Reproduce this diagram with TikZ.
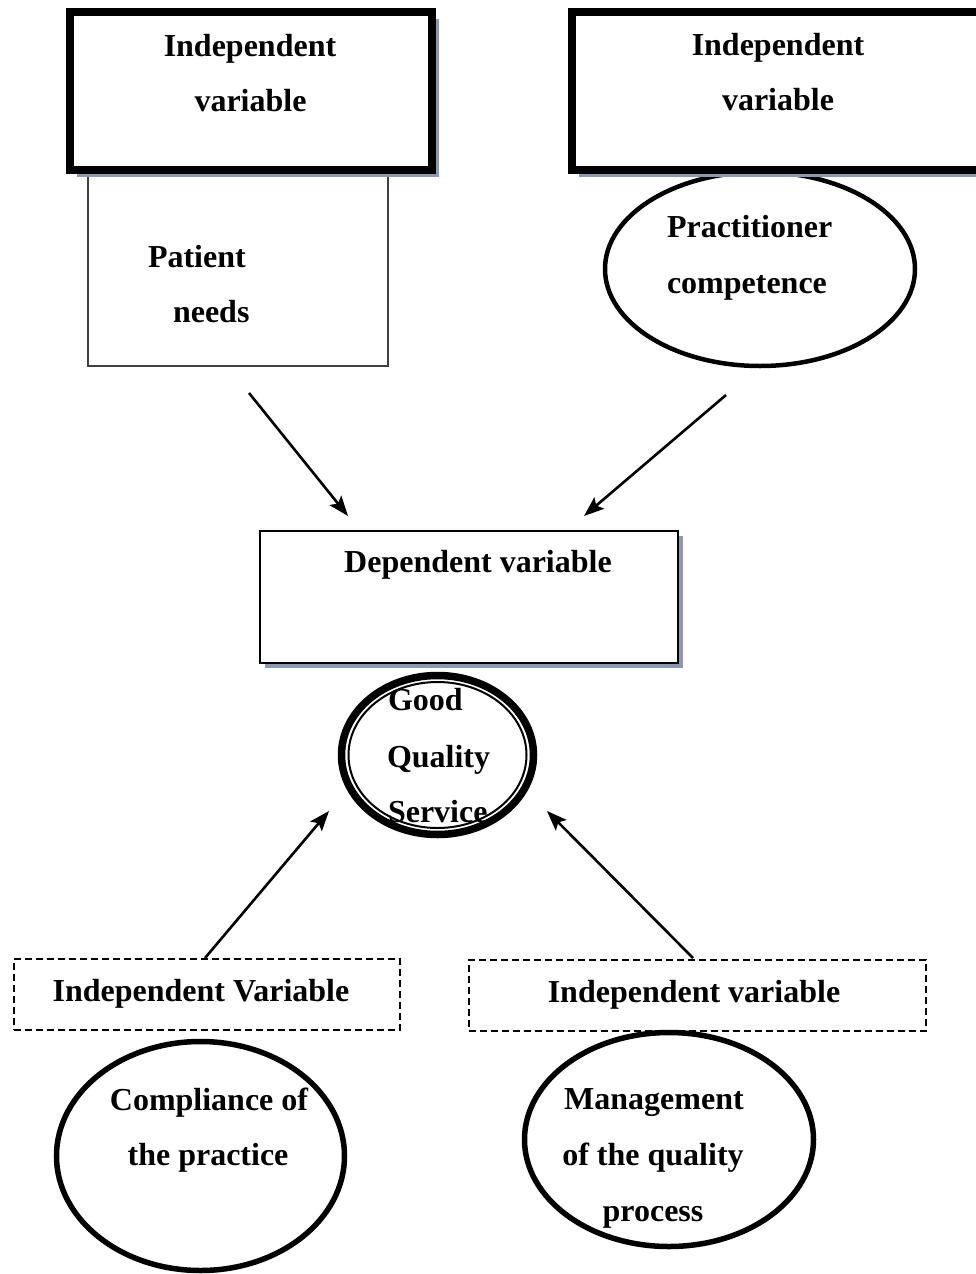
\documentclass[tikz,border=0pt]{standalone}
\usepackage{fontspec}
\setmainfont{Liberation Serif}
\usetikzlibrary{shapes.geometric,arrows.meta,shadows}
\definecolor{shadowgray}{RGB}{140,152,175}
\begin{document}
\begin{tikzpicture}[x=1pt,y=-1pt,
  txt/.style={font=\bfseries\fontsize{32}{38}\selectfont, inner sep=0pt, outer sep=0pt},
  box/.style={draw, rectangle, inner sep=0pt, outer sep=0pt, fill=white},
  thickbox/.style={box, line width=8pt,
     drop shadow={shadow xshift=7pt, shadow yshift=-7pt, fill=shadowgray, opacity=1}},
  depbox/.style={box, line width=2.5pt,
     drop shadow={shadow xshift=4.5pt, shadow yshift=-4.5pt, fill=shadowgray, opacity=1}},
  dashbox/.style={box, line width=2pt, dash pattern=on 7pt off 4pt},
  oval/.style={draw, ellipse, inner sep=0pt, outer sep=0pt},
  arr/.style={line width=2.6pt, -{Stealth[length=20pt,width=15pt,inset=4pt]}}
]
\useasboundingbox (0,0) rectangle (976,1274);
\clip (0,0) rectangle (976,1274);
\fill[white] (0,0) rectangle (976,1274);

% top-left: patient needs box (behind) and independent variable box
\node[box, draw=black!75, line width=1.2pt, minimum width=300pt, minimum height=216pt] (pn) at (238,258) {};
\node[thickbox, minimum width=362pt, minimum height=158pt] (iv1) at (250.5,91) {};
\node[txt, anchor=base] (iv1a) at (250,56) {Independent};
\node[txt, anchor=base] (iv1b) at (250.5,111) {variable};
\node[txt, anchor=base west] (pna) at (148,267) {Patient};
\node[txt, anchor=base west] (pnb) at (173,322) {needs};

% top-right: practitioner competence ellipse and independent variable box
\node[oval, line width=4.5pt, minimum width=310pt, minimum height=194pt] (pc) at (760,269) {};
\node[thickbox, minimum width=418pt, minimum height=158pt] (iv2) at (781,91) {};
\node[txt, anchor=base] (iv2a) at (778,55) {Independent};
\node[txt, anchor=base] (iv2b) at (778,110) {variable};
\node[txt, anchor=base west] (pca) at (667,237) {Practitioner};
\node[txt, anchor=base west] (pcb) at (667,293) {competence};

% dependent variable
\node[depbox, minimum width=418pt, minimum height=132pt] (dv) at (469,597) {};
\node[txt, anchor=base] (dva) at (478,572) {Dependent variable};

% good quality service
\node[oval, line width=7.5pt, minimum width=192pt, minimum height=159pt] (gq) at (437.5,755) {};
\node[oval, line width=2pt, minimum width=178pt, minimum height=146pt] (gqi) at (437.5,755) {};
\node[txt, anchor=base west] (gqa) at (388,710) {Good};
\node[txt, anchor=base west] (gqb) at (387,767) {Quality};
\node[txt, anchor=base west] (gqc) at (388,822) {Service};

% bottom dashed boxes
\node[dashbox, minimum width=386pt, minimum height=71pt] (iv3) at (207,994.5) {};
\node[txt, anchor=base] (iv3a) at (201,1001) {Independent Variable};
\node[dashbox, minimum width=457pt, minimum height=71pt] (iv4) at (697,995.5) {};
\node[txt, anchor=base] (iv4a) at (694,1002) {Independent variable};

% bottom ellipses
\node[oval, line width=5.5pt, minimum width=288pt, minimum height=229pt] (cp) at (200.5,1156) {};
\node[txt, anchor=base] (cpa) at (209,1110) {Compliance of};
\node[txt, anchor=base] (cpb) at (208,1165) {the practice};
\node[oval, line width=5.5pt, minimum width=289pt, minimum height=214pt] (mq) at (669,1139.5) {};
\node[txt, anchor=base] (mqa) at (654,1109) {Management};
\node[txt, anchor=base] (mqb) at (653,1165) {of the quality};
\node[txt, anchor=base] (mqc) at (653,1221) {process};

% arrows
\coordinate (a1s) at (249,393);
\coordinate (a1e) at (348,516);
\coordinate (a2s) at (726,395);
\coordinate (a2e) at (584,516);
\coordinate (a3s) at (205,958);
\coordinate (a3e) at (329,811);
\coordinate (a4s) at (693,958);
\coordinate (a4e) at (547,811);
\draw[arr] (a1s) -- (a1e);
\draw[arr] (a2s) -- (a2e);
\draw[arr] (a3s) -- (a3e);
\draw[arr] (a4s) -- (a4e);
\end{tikzpicture}
\end{document}
